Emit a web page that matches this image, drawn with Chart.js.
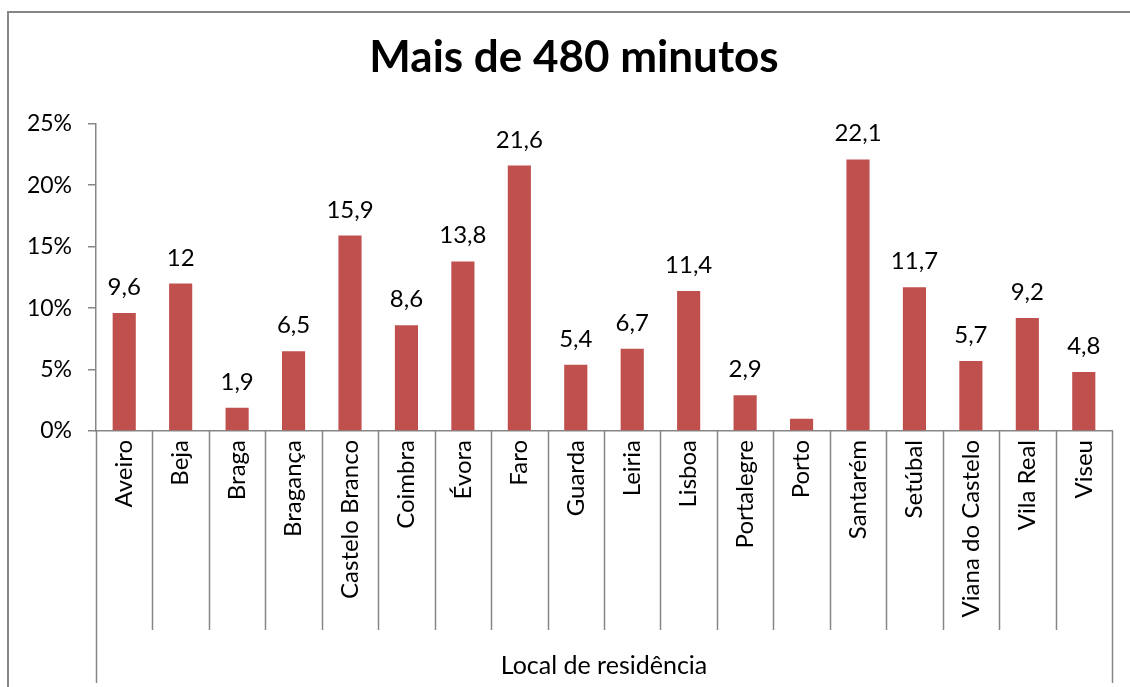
<!DOCTYPE html>
<html lang="pt">
<head>
  <meta charset="UTF-8" />
  <title>Mais de 480 minutos</title>
  <script src="https://cdn.jsdelivr.net/npm/chart.js"></script>
  <style>
    body {
      margin: 0;
      background: #fff;
    }
    .wrap {
      width: 1130px;
      height: 687px;
    }
  </style>
</head>
<body>
  <div class="wrap"><canvas id="chart"></canvas></div>

  <script>
    const categories = ['Aveiro', 'Beja', 'Braga', 'Bragança', 'Castelo Branco', 'Coimbra', 'Évora', 'Faro', 'Guarda',
      'Leiria', 'Lisboa', 'Portalegre', 'Porto', 'Santarém', 'Setúbal', 'Viana do Castelo', 'Vila Real', 'Viseu'];
    const values = [9.6, 12, 1.9, 6.5, 15.9, 8.6, 13.8, 21.6, 5.4, 6.7, 11.4, 2.9, 1.0, 22.1, 11.7, 5.7, 9.2, 4.8];
    // Porto has no label in the original
    const valueLabels = ['9,6', '12', '1,9', '6,5', '15,9', '8,6', '13,8', '21,6', '5,4', '6,7', '11,4', '2,9', '',
      '22,1', '11,7', '5,7', '9,2', '4,8'];
    const yTicks = [0, 5, 10, 15, 20, 25];

    const axisColor = '#868686';
    const font = 'Lato, "Open Sans", sans-serif';

    // data labels, category dividers and the outer frame
    const extras = {
      id: 'extras',
      afterLayout(chart) {
        // title is centred on the whole frame, not on the padded box
        if (chart.titleBlock) {
          chart.titleBlock.left = 18;
          chart.titleBlock.right = chart.width;
        }
      },
      afterDraw(chart) {
        const ctx = chart.ctx;
        const xs = chart.scales.x;
        const ys = chart.scales.y;
        ctx.save();

        ctx.fillStyle = '#000';
        ctx.font = '24px ' + font;
        ctx.textAlign = 'center';
        ctx.textBaseline = 'alphabetic';
        chart.getDatasetMeta(0).data.forEach((bar, i) => {
          if (valueLabels[i]) ctx.fillText(valueLabels[i], bar.x, bar.y - 18);
        });

        const step = xs.getPixelForValue(1) - xs.getPixelForValue(0);
        ctx.strokeStyle = axisColor;
        ctx.lineWidth = 1.5;
        for (let i = 0; i <= categories.length; i++) {
          const px = Math.round(xs.getPixelForValue(0) - step / 2 + i * step) + 0.5;
          const end = (i === 0 || i === categories.length) ? 683 : 630;
          ctx.beginPath();
          ctx.moveTo(px, ys.bottom);
          ctx.lineTo(px, end);
          ctx.stroke();
        }

        ctx.lineWidth = 2;
        ctx.beginPath();
        ctx.moveTo(chart.width, 12);
        ctx.lineTo(8, 12);
        ctx.lineTo(8, chart.height);
        ctx.stroke();
        ctx.restore();
      }
    };

    new Chart(document.getElementById('chart'), {
      type: 'bar',
      data: {
        labels: categories,
        datasets: [{
          data: values,
          backgroundColor: '#C0504D',
          barPercentage: 0.41,
          categoryPercentage: 1
        }]
      },
      options: {
        responsive: true,
        maintainAspectRatio: false,
        animation: false,
        layout: { padding: { left: 0, right: 18, top: 0, bottom: 0 } },
        plugins: {
          legend: { display: false },
          tooltip: { enabled: false },
          title: {
            display: true,
            text: 'Mais de 480 minutos',
            color: '#000',
            font: { family: font, size: 44, weight: 'bold' },
            padding: { top: 31, bottom: 40 }
          }
        },
        scales: {
          x: {
            afterFit(scale) { scale.height = 256; },
            grid: { display: false, drawTicks: false },
            border: { display: true, color: axisColor, width: 1.5 },
            ticks: {
              color: '#000',
              font: { family: font, size: 24 },
              padding: 9,
              minRotation: 90,
              maxRotation: 90,
              autoSkip: false
            },
            title: {
              display: true,
              text: 'Local de residência',
              color: '#000',
              font: { family: font, size: 25 },
              padding: { top: 0, bottom: 6 }
            }
          },
          y: {
            min: 0,
            max: 25,
            afterFit(scale) { scale.width = 96; },
            afterBuildTicks(scale) { scale.ticks = yTicks.map(v => ({ value: v })); },
            grid: { drawOnChartArea: false, drawTicks: true, tickLength: 8, color: axisColor, lineWidth: 1.5 },
            border: { display: true, color: axisColor, width: 1.5 },
            ticks: {
              color: '#000',
              font: { family: font, size: 23 },
              padding: 16,
              callback: v => v + '%'
            }
          }
        }
      },
      plugins: [extras]
    });
  </script>
</body>
</html>
